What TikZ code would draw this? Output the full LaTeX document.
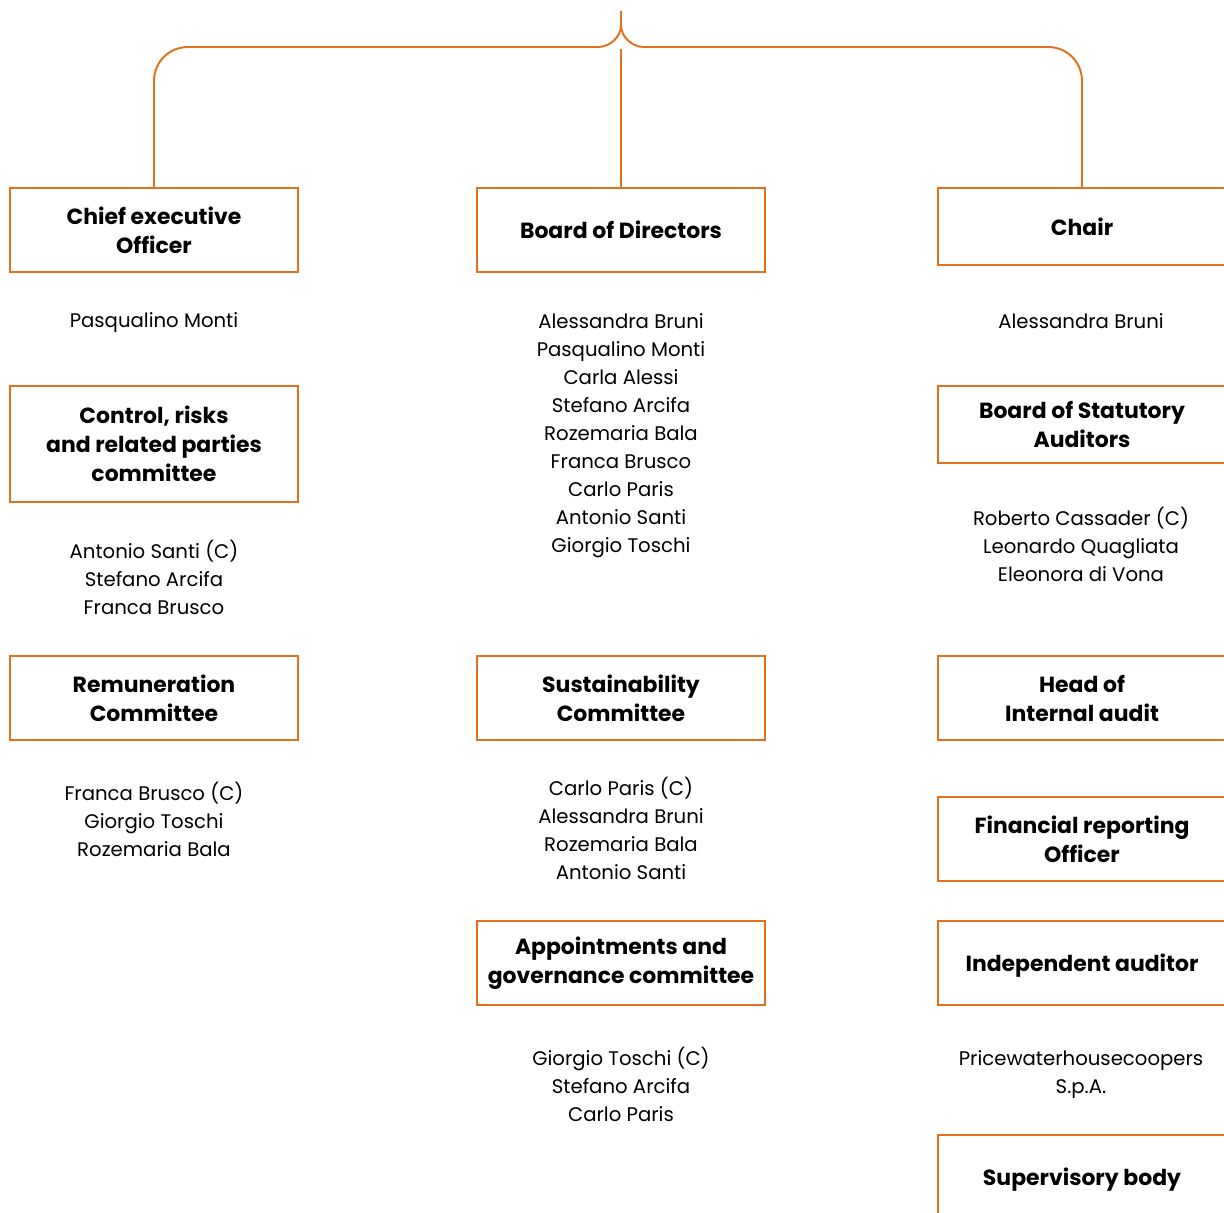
\documentclass[tikz,border=0pt]{standalone}
\usepackage{fontspec}
\setmainfont{Poppins}
\usepackage{xcolor}
\usepackage{tikz}
\usetikzlibrary{positioning}
\definecolor{orgorange}{HTML}{E2711D}
\tikzset{
    orgbox/.style={
        rectangle, draw=orgorange, line width=1.4pt,
        minimum width=7.2cm, minimum height=#1,
        align=center, inner sep=0pt,
        font=\fontsize{15.6}{20.6}\selectfont\bfseries
    },
    orgbox/.default=2.1cm,
    members/.style={
        align=center, inner sep=0pt,
        font=\fontsize{14}{19.9}\selectfont
    },
    link/.style={
        draw=orgorange, line width=1.4pt
    },
}

\begin{document}
\begin{tikzpicture}[x=0.025cm, y=-0.025cm]
    \useasboundingbox (0,0) rectangle (1224,1212);

    % Top level
    \node[orgbox] (ceo) at (154,230) {Chief executive\\Officer};
    \node[orgbox] (board) at (621,230) {Board of Directors};
    \node[orgbox=1.925cm] (chair) at (1082,226.5) {Chair};

    \node[members] (ceom) at (154,323) {Pasqualino Monti};
    \node[members] (boardm) at (621,436) {
        Alessandra Bruni\\Pasqualino Monti\\Carla Alessi\\Stefano Arcifa\\
        Rozemaria Bala\\Franca Brusco\\Carlo Paris\\Antonio Santi\\Giorgio Toschi
    };
    \node[members] (chairm) at (1081,321) {Alessandra Bruni};

    % Committees
    \node[orgbox=2.9cm] (ctrl) at (154,444) {Control, risks\\and related parties\\committee};
    \node[members] (ctrlm) at (154,577) {Antonio Santi (C)\\Stefano Arcifa\\Franca Brusco};

    \node[orgbox=1.925cm] (stat) at (1082,424.5) {Board of Statutory\\Auditors};
    \node[members] (statm) at (1081,544) {Roberto Cassader (C)\\Leonardo Quagliata\\Eleonora di Vona};

    \node[orgbox] (remu) at (154,698) {Remuneration\\Committee};
    \node[members] (remum) at (154,819) {Franca Brusco (C)\\Giorgio Toschi\\Rozemaria Bala};

    \node[orgbox] (sust) at (621,698) {Sustainability\\Committee};
    \node[members] (sustm) at (621,828) {Carlo Paris (C)\\Alessandra Bruni\\Rozemaria Bala\\Antonio Santi};

    \node[orgbox] (head) at (1082,698) {Head of\\Internal audit};
    \node[orgbox] (fin) at (1082,839) {Financial reporting\\Officer};

    \node[orgbox] (appt) at (621,963) {Appointments and\\governance committee};
    \node[members] (apptm) at (621,1084) {Giorgio Toschi (C)\\Stefano Arcifa\\Carlo Paris};

    \node[orgbox, text depth=0pt] (indep) at (1082,963) {Independent auditor};
    \node[members] (indepm) at (1081,1075) {Pricewaterhousecoopers\\S.p.A.};

    \node[orgbox, text depth=0pt] (superv) at (1082,1177) {Supervisory body};

    % Brace on top
    \coordinate (stem) at (621,11);
    \coordinate (midstem) at (621,49);
    \draw[link] (ceo.north) -- (154,81) .. controls (154,62) and (169,47) .. (188,47)
        -- (598,47) .. controls (610,47) and (621,37) .. (621,25) -- (stem);
    \draw[link] (chair.north) -- (1082,81) .. controls (1082,62) and (1067,47) .. (1048,47)
        -- (644,47) .. controls (632,47) and (621,37) .. (621,25);
    \draw[link] (board.north) -- (midstem);
\end{tikzpicture}
\end{document}
